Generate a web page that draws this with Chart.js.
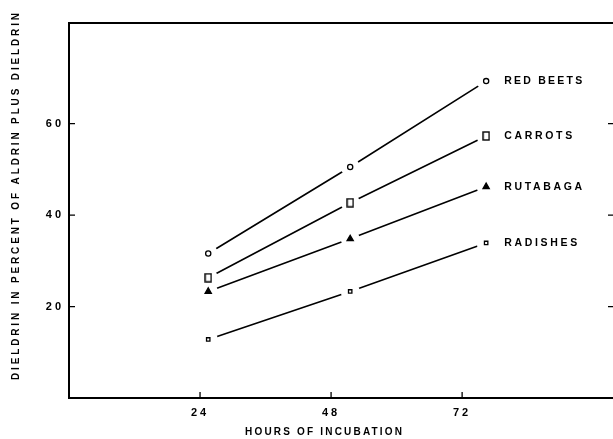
<!DOCTYPE html>
<html>
<head>
<meta charset="utf-8">
<script src="https://cdn.jsdelivr.net/npm/chart.js@4.4.1/dist/chart.umd.min.js"></script>
<style>
html, body { margin: 0; padding: 0; background: #fff; overflow: hidden; }
#wrap { position: relative; width: 625px; height: 439px; }
</style>
</head>
<body>
<div id="wrap"><canvas id="chart"></canvas></div>
<script>
// Values (hours = where the points sit on the axis)
const hours = [25.5, 51.5, 76.4];
const hourTicks = [24, 48, 72];
const percentTicks = [20, 40, 60];
const seriesNames = ['RED BEETS', 'CARROTS', 'RUTABAGA', 'RADISHES'];
const redBeets = [31.6, 50.5, 69.3];
const carrots = [26.3, 42.7, 57.3];
const rutabaga = [23.3, 34.8, 46.2];
const radishes = [12.8, 23.3, 33.9];

const FONT = '"Liberation Sans", Arial, sans-serif';

// tall open box used for the carrots marker
function tallBox() {
    const c = document.createElement('canvas');
    c.width = 8; c.height = 10;
    const g = c.getContext('2d');
    g.fillStyle = '#fff';
    g.fillRect(0, 0, 8, 10);
    g.strokeStyle = '#000';
    g.lineWidth = 1.4;
    g.strokeRect(1, 1, 6, 8);
    return c;
}

const toXY = vals => vals.map((v, i) => ({ x: hours[i], y: v }));

const markers = [
    { style: 'circle', radius: 2.6, fill: '#fff' },
    { style: tallBox(), radius: 4, fill: '#fff' },
    { style: 'triangle', radius: 3.6, fill: '#000' },
    { style: 'rect', radius: 2.4, fill: '#fff' }
];
const allValues = [redBeets, carrots, rutabaga, radishes];

const datasets = [];
allValues.forEach((vals, i) => {
    // line with white discs so the segments stop short of the markers
    datasets.push({
        label: seriesNames[i] + ' line',
        data: toXY(vals),
        borderColor: '#000',
        borderWidth: 1.6,
        pointRadius: 9.5,
        pointBackgroundColor: '#fff',
        pointBorderWidth: 0,
        pointBorderColor: '#fff',
        order: 2
    });
    datasets.push({
        label: seriesNames[i],
        data: toXY(vals),
        showLine: false,
        pointStyle: markers[i].style,
        pointRadius: markers[i].radius,
        pointBackgroundColor: markers[i].fill,
        pointBorderColor: '#000',
        pointBorderWidth: 1.3,
        order: 1
    });
});

// draw text stretched to a given width with letter spacing
function spaced(ctx, text, x, y, width) {
    ctx.letterSpacing = '0px';
    const w = ctx.measureText(text).width;
    const ls = (width - w) / Math.max(1, text.length - 1);
    ctx.letterSpacing = ls + 'px';
    ctx.fillText(text, x, y);
    ctx.letterSpacing = '0px';
}

const figurePlugin = {
    id: 'figure',
    beforeDraw(chart) {
        chart.ctx.letterSpacing = '3px';
    },
    afterDraw(chart) {
        const ctx = chart.ctx;
        const a = chart.chartArea;
        const xs = chart.scales.x, ys = chart.scales.y;
        ctx.save();
        ctx.strokeStyle = '#000';
        ctx.lineWidth = 2;
        // top frame
        ctx.beginPath();
        ctx.moveTo(a.left - 1, a.top);
        ctx.lineTo(a.right, a.top);
        ctx.stroke();
        // inward ticks
        ctx.lineWidth = 1.3;
        ctx.beginPath();
        percentTicks.forEach(v => {
            const py = ys.getPixelForValue(v);
            ctx.moveTo(a.left, py); ctx.lineTo(a.left + 6, py);
            ctx.moveTo(a.right, py); ctx.lineTo(a.right - 7, py);
        });
        hourTicks.forEach(v => {
            const px = xs.getPixelForValue(v);
            ctx.moveTo(px, a.bottom); ctx.lineTo(px, a.bottom - 6);
        });
        ctx.stroke();

        // series names next to the last points
        ctx.fillStyle = '#000';
        ctx.font = 'bold 10.5px ' + FONT;
        ctx.textBaseline = 'middle';
        ctx.textAlign = 'left';
        const widths = [78, 68, 78, 73];
        allValues.forEach((vals, i) => {
            const last = vals.length - 1;
            const px = xs.getPixelForValue(hours[last]);
            const py = ys.getPixelForValue(vals[last]);
            spaced(ctx, seriesNames[i], px + 18, py + 0.5, widths[i]);
        });

        // axis titles
        ctx.font = 'bold 10px ' + FONT;
        spaced(ctx, 'HOURS OF INCUBATION', 245, 432, 157);
        ctx.translate(16, 380);
        ctx.rotate(-Math.PI / 2);
        spaced(ctx, 'DIELDRIN IN PERCENT OF ALDRIN PLUS DIELDRIN', 0, 0, 367);
        ctx.restore();
    }
};

new Chart(document.getElementById('chart'), {
    type: 'line',
    data: { datasets: datasets },
    options: {
        responsive: true,
        maintainAspectRatio: false,
        animation: false,
        events: [],
        layout: { padding: { top: 23, right: 10, left: 0, bottom: 0 } },
        plugins: { legend: { display: false }, tooltip: { enabled: false } },
        scales: {
            x: {
                type: 'linear',
                min: 0,
                max: 100,
                afterBuildTicks: s => { s.ticks = hourTicks.map(v => ({ value: v })); },
                afterFit: s => { s.height = 41; },
                grid: { display: false, drawTicks: false },
                border: { display: true, color: '#000', width: 2 },
                ticks: {
                    color: '#000',
                    padding: 8,
                    font: { family: FONT, size: 11, weight: 'bold' }
                }
            },
            y: {
                type: 'linear',
                min: 0,
                max: 82,
                afterBuildTicks: s => { s.ticks = percentTicks.map(v => ({ value: v })); },
                afterFit: s => { s.width = 69; },
                grid: { display: false, drawTicks: false },
                border: { display: true, color: '#000', width: 2 },
                ticks: {
                    color: '#000',
                    padding: 5,
                    font: { family: FONT, size: 11, weight: 'bold' }
                }
            }
        }
    },
    plugins: [figurePlugin]
});
</script>
</body>
</html>
